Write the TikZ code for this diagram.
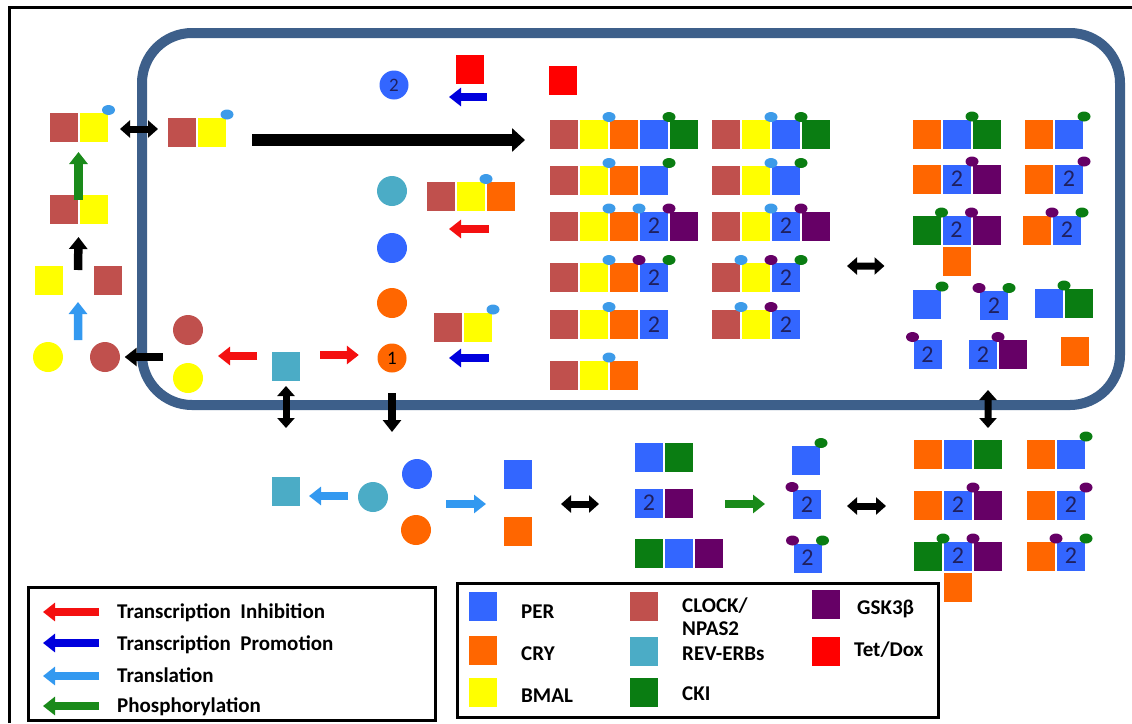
\documentclass[tikz,border=0pt]{standalone}
\usepackage{fontspec}
\setsansfont{Carlito}
\usepackage{tikz}
\usetikzlibrary{arrows.meta, positioning, shapes.geometric}
\tikzset{every node/.style={font=\sffamily}}
\usepackage{xcolor}
\definecolor{clkC}{HTML}{C0504D}
\definecolor{bmalC}{HTML}{FFFF00}
\definecolor{cryC}{HTML}{FF6600}
\definecolor{perC}{HTML}{3366FF}
\definecolor{ckiC}{HTML}{0A7D12}
\definecolor{gskC}{HTML}{660066}
\definecolor{revC}{HTML}{4BACC6}
\definecolor{tetC}{HTML}{FF0000}
\definecolor{pdotC}{HTML}{3D9BE9}
\definecolor{nucC}{HTML}{3D5F8A}
\definecolor{numC}{HTML}{1F2060}
\definecolor{redA}{HTML}{F41010}
\definecolor{blueA}{HTML}{0000DD}
\definecolor{lblueA}{HTML}{3399F0}
\definecolor{greenA}{HTML}{1A8A1A}

\begin{document}
\begin{tikzpicture}[x=1pt, y=-1pt,
    sq/.style={draw=white, line width=0.8pt, minimum width=29.2pt, minimum height=30.2pt, inner sep=0pt},
    clk/.style={sq, fill=clkC}, bmal/.style={sq, fill=bmalC}, cry/.style={sq, fill=cryC},
    per/.style={sq, fill=perC}, cki/.style={sq, fill=ckiC}, gsk/.style={sq, fill=gskC},
    rev/.style={sq, fill=revC}, tet/.style={sq, fill=tetC},
    per2/.style={per, text=numC, font=\sffamily\fontsize{24}{24}\selectfont},
    circ/.style={circle, minimum size=30pt, inner sep=0pt},
    dot/.style={ellipse, minimum width=13pt, minimum height=10pt, inner sep=0pt},
    pdot/.style={dot, fill=pdotC}, gdot/.style={dot, fill=ckiC}, vdot/.style={dot, fill=gskC},
    fat/.style={line width=8.5pt, -{Triangle[length=12pt, width=18pt]}},
    dbl/.style={line width=7pt, {Triangle[length=10pt, width=17pt]}-{Triangle[length=10pt, width=17pt]}},
    big/.style={line width=12pt, -{Triangle[length=13pt, width=23pt]}},
    legbox/.style={draw, line width=3pt, inner sep=0pt},
    legtxt/.style={anchor=base west, inner sep=0pt, font=\sffamily\bfseries\fontsize{21}{22}\selectfont}]
\useasboundingbox (0,0) rectangle (1132,723);
\draw[line width=3pt] (9,723) -- (9,7) -- (1132,7);
% nucleus
\node[draw=nucC, line width=10pt, rounded corners=50pt, minimum width=978pt, minimum height=372pt] (nuc) at (631,219) {};

% outside the nucleus
\node[clk] (l1a) at (63.5,127.5) {};
\node[bmal, right=0pt of l1a] (l1b) {};
\node[pdot] (l1p) at ([yshift=2pt]l1b.north east) {};
\node[clk] (l2a) at (63.5,209) {};
\node[bmal, right=0pt of l2a] (l2b) {};
\node[bmal] (l3a) at (48.5,280) {};
\node[clk] (l3b) at (107.5,280) {};
\node[circ, fill=bmalC] (l4a) at (48,357) {};
\node[circ, fill=clkC] (l4b) at (105,357) {};
\node[circ, fill=clkC] (m1a) at (188,330) {};
\node[circ, fill=bmalC] (m1b) at (188,378) {};
\node[rev] (rv) at (286,366) {};

% inside the nucleus
\node[clk] (k1a) at (182,132) {};
\node[bmal, right=0pt of k1a] (k1b) {};
\node[pdot] (k1p) at ([yshift=2pt]k1b.north east) {};
\node[circ, fill=cryC, minimum size=29pt, font=\sffamily\fontsize{19}{19}\selectfont] (c1) at (392,358) {1};
\node[circ, fill=cryC] (c2) at (392,303) {};
\node[circ, fill=perC] (c3) at (392,248) {};
\node[circ, fill=revC] (c4) at (392,191) {};
\node[circ, fill=perC, minimum size=29pt, text=numC, font=\sffamily\fontsize{19}{19}\selectfont] (c5) at (394,85) {2};
\node[tet] (t1) at (470,69.5) {};
\node[tet] (t2) at (563,80) {};
\node[clk] (k2a) at (441,196.5) {};
\node[bmal, right=0pt of k2a] (k2b) {};
\node[cry, right=0pt of k2b] (k2c) {};
\node[pdot] (k2p) at ([yshift=2pt]k2b.north east) {};
\node[clk] (k3a) at (448,327) {};
\node[bmal, right=0pt of k3a] (k3b) {};
\node[pdot] (k3p) at ([yshift=2pt]k3b.north east) {};

% complexes, first block
\node[clk] (a11) at (564,134.5) {}; \node[bmal, right=0pt of a11] (a12) {}; \node[cry, right=0pt of a12] (a13) {};
\node[per, right=0pt of a13] (a14) {}; \node[cki, right=0pt of a14] (a15) {};
\node[pdot] (a1p) at ([yshift=2pt]a12.north east) {}; \node[gdot] (a1g) at ([yshift=2pt]a14.north east) {};
\node[clk] (b11) at (726,134.5) {}; \node[bmal, right=0pt of b11] (b12) {}; \node[per, right=0pt of b12] (b13) {};
\node[cki, right=0pt of b13] (b14) {};
\node[pdot] (b1p) at ([yshift=2pt]b12.north east) {}; \node[gdot] (b1g) at ([yshift=2pt]b13.north east) {};

\node[clk] (a21) at (564,180.5) {}; \node[bmal, right=0pt of a21] (a22) {}; \node[cry, right=0pt of a22] (a23) {};
\node[per, right=0pt of a23] (a24) {};
\node[pdot] (a2p) at ([yshift=2pt]a22.north east) {}; \node[gdot] (a2g) at ([yshift=2pt]a24.north east) {};
\node[clk] (b21) at (726,180.5) {}; \node[bmal, right=0pt of b21] (b22) {}; \node[per, right=0pt of b22] (b23) {};
\node[pdot] (b2p) at ([yshift=2pt]b22.north east) {}; \node[gdot] (b2g) at ([yshift=2pt]b23.north east) {};

\node[clk] (a31) at (564,226) {}; \node[bmal, right=0pt of a31] (a32) {}; \node[cry, right=0pt of a32] (a33) {};
\node[per2, right=0pt of a33] (a34) {2}; \node[gsk, right=0pt of a34] (a35) {};
\node[pdot] (a3p) at ([yshift=2pt]a32.north east) {}; \node[pdot] (a3q) at ([yshift=2pt]a33.north east) {};
\node[vdot] (a3v) at ([yshift=2pt]a34.north east) {};
\node[clk] (b31) at (726,226) {}; \node[bmal, right=0pt of b31] (b32) {}; \node[per2, right=0pt of b32] (b33) {2};
\node[gsk, right=0pt of b33] (b34) {};
\node[pdot] (b3p) at ([yshift=2pt]b32.north east) {}; \node[vdot] (b3v) at ([yshift=2pt]b33.north east) {};

\node[clk] (a41) at (564,277.5) {}; \node[bmal, right=0pt of a41] (a42) {}; \node[cry, right=0pt of a42] (a43) {};
\node[per2, right=0pt of a43] (a44) {2};
\node[pdot] (a4p) at ([yshift=2pt]a42.north east) {}; \node[vdot] (a4v) at ([yshift=2pt]a43.north east) {};
\node[gdot] (a4g) at ([yshift=2pt]a44.north east) {};
\node[clk] (b41) at (726,277.5) {}; \node[bmal, right=0pt of b41] (b42) {}; \node[per2, right=0pt of b42] (b43) {2};
\node[pdot] (b4p) at ([yshift=2pt]b41.north east) {}; \node[vdot] (b4v) at ([yshift=2pt]b42.north east) {};
\node[gdot] (b4g) at ([yshift=2pt]b43.north east) {};

\node[clk] (a51) at (564,324.5) {}; \node[bmal, right=0pt of a51] (a52) {}; \node[cry, right=0pt of a52] (a53) {};
\node[per2, right=0pt of a53] (a54) {2};
\node[pdot] (a5p) at ([yshift=2pt]a52.north east) {};
\node[clk] (b51) at (726,324.5) {}; \node[bmal, right=0pt of b51] (b52) {}; \node[per2, right=0pt of b52] (b53) {2};
\node[pdot] (b5p) at ([yshift=2pt]b51.north east) {}; \node[vdot] (b5v) at ([yshift=2pt]b52.north east) {};

\node[clk] (a61) at (564,375) {}; \node[bmal, right=0pt of a61] (a62) {}; \node[cry, right=0pt of a62] (a63) {};
\node[pdot] (a6p) at ([yshift=2pt]a62.north east) {};

% complexes, second block
\node[cry] (c11) at (927,134) {}; \node[per, right=0pt of c11] (c12) {}; \node[cki, right=0pt of c12] (c13) {};
\node[gdot] (c1g) at ([yshift=2pt]c12.north east) {};
\node[cry] (d11) at (1039,134) {}; \node[per, right=0pt of d11] (d12) {};
\node[gdot] (d1g) at ([yshift=2pt]d12.north east) {};
\node[cry] (c21) at (927,179) {}; \node[per2, right=0pt of c21] (c22) {2}; \node[gsk, right=0pt of c22] (c23) {};
\node[vdot] (c2v) at ([yshift=2pt]c22.north east) {};
\node[cry] (d21) at (1039,179) {}; \node[per2, right=0pt of d21] (d22) {2};
\node[vdot] (d2v) at ([yshift=2pt]d22.north east) {};
\node[cki] (c31) at (926.5,230) {}; \node[per2, right=0pt of c31] (c32) {2}; \node[gsk, right=0pt of c32] (c33) {};
\node[cry, below=0pt of c32] (c34) {};
\node[gdot] (c3g) at ([yshift=2pt]c31.north east) {}; \node[vdot] (c3v) at ([yshift=2pt]c32.north east) {};
\node[cry] (d31) at (1037,230) {}; \node[per2, right=0pt of d31] (d32) {2};
\node[vdot] (d3v) at ([yshift=2pt]d31.north east) {}; \node[gdot] (d3g) at ([yshift=2pt]d32.north east) {};
\node[per] (c41) at (927,304) {}; \node[gdot] (c4g) at ([yshift=2pt]c41.north east) {};
\node[per2] (d41) at (994,305.5) {2};
\node[vdot] (d4v) at ([yshift=2pt]d41.north west) {}; \node[gdot] (d4g) at ([yshift=2pt]d41.north east) {};
\node[per] (e41) at (1049,303) {}; \node[cki, right=0pt of e41] (e42) {};
\node[gdot] (e4g) at ([yshift=2pt]e41.north east) {};
\node[per2] (c51) at (927.5,354.5) {2}; \node[vdot] (c5v) at ([yshift=2pt]c51.north west) {};
\node[per2] (d51) at (983,354.5) {2}; \node[gsk, right=0pt of d51] (d52) {};
\node[vdot] (d5v) at ([yshift=2pt]d51.north east) {};
\node[cry] (e51) at (1074.5,351.5) {};

% below the nucleus
\node[rev] (bt) at (286,491.5) {};
\node[circ, fill=revC] (btc) at (373,497) {};
\node[circ, fill=perC] (bpc) at (417,474) {};
\node[circ, fill=cryC] (boc) at (416,530) {};
\node[per] (bper) at (517.5,474.5) {};
\node[cry] (bcry) at (517.5,531) {};
\node[per] (m11) at (649,457.5) {}; \node[cki, right=0pt of m11] (m12) {};
\node[per2] (m21) at (649,503) {2}; \node[gsk, right=0pt of m21] (m22) {};
\node[cki] (m31) at (648.5,553) {}; \node[per, right=0pt of m31] (m32) {}; \node[gsk, right=0pt of m32] (m33) {};
\node[per] (pp1) at (806,460.5) {}; \node[gdot] (pp1g) at ([yshift=2pt]pp1.north east) {};
\node[per2] (pp2) at (807,504.5) {2}; \node[vdot] (pp2v) at ([yshift=2pt]pp2.north west) {};
\node[per2] (pp3) at (807.5,558) {2};
\node[vdot] (pp3v) at ([yshift=2pt]pp3.north west) {}; \node[gdot] (pp3g) at ([yshift=2pt]pp3.north east) {};

\node[cry] (f11) at (928,454) {}; \node[per, right=0pt of f11] (f12) {}; \node[cki, right=0pt of f12] (f13) {};
\node[cry] (g11) at (1041,454) {}; \node[per, right=0pt of g11] (g12) {};
\node[gdot] (g1g) at ([yshift=2pt]g12.north east) {};
\node[cry] (f21) at (928,505) {}; \node[per2, right=0pt of f21] (f22) {2}; \node[gsk, right=0pt of f22] (f23) {};
\node[vdot] (f2v) at ([yshift=2pt]f22.north east) {};
\node[cry] (g21) at (1041,505) {}; \node[per2, right=0pt of g21] (g22) {2};
\node[vdot] (g2v) at ([yshift=2pt]g22.north east) {};
\node[cki] (f31) at (928,556) {}; \node[per2, right=0pt of f31] (f32) {2}; \node[gsk, right=0pt of f32] (f33) {};
\node[cry, below=0pt of f32] (f34) {};
\node[gdot] (f3g) at ([yshift=2pt]f31.north east) {}; \node[vdot] (f3v) at ([yshift=2pt]f32.north east) {};
\node[cry] (g31) at (1041,556) {}; \node[per2, right=0pt of g31] (g32) {2};
\node[vdot] (g3v) at ([yshift=2pt]g31.north east) {}; \node[gdot] (g3g) at ([yshift=2pt]g32.north east) {};

% arrows
\draw[dbl] ([shift={(11.5pt,-1.5pt)}]l1b.east) -- ([shift={(-9pt,3pt)}]k1a.west);
\draw[big] ([shift={(25pt,-8pt)}]k1b.east) -- ([shift={(-24pt,-5.5pt)}]a11.west);
\draw[fat, greenA] ([yshift=-6.5pt]l2a.north east) -- ([yshift=-9pt]l1a.south east);
\draw[fat, black] ([shift={(14.5pt,-5.5pt)}]l3a.north east) -- ([yshift=-12.5pt]l2a.south east);
\draw[fat, lblueA] ([shift={(30pt,17pt)}]l4a.center) -- ([shift={(14.5pt,-6.5pt)}]l3a.south east);
\draw[fat, black] ([shift={(-9.5pt,-27pt)}]m1a.west) -- ([xshift=4.5pt]l4b.east);
\draw[fat, redA] ([shift={(-14pt,10pt)}]rv.west) -- ([shift={(30pt,-26pt)}]m1a.center);
\draw[fat, redA] ([shift={(19pt,11pt)}]rv.east) -- ([shift={(-18.5pt,3pt)}]c1.west);
\draw[fat, blueA] ([shift={(11pt,-31pt)}]k3b.center) -- ([xshift=57pt]c1.center);
\draw[fat, redA] ([shift={(-12pt,-32.5pt)}]k2c.center) -- ([shift={(-22pt,-32.5pt)}]k2b.center);
\draw[fat, blueA] ([shift={(17pt,-27.5pt)}]t1.center) -- ([shift={(-21pt,-27.5pt)}]t1.center);
\draw[dbl] ([shift={(46pt,11.5pt)}]b43.east) -- ([shift={(-57pt,-5pt)}]c34.west);
\draw[dbl] ([shift={(5pt,-20pt)}]d51.south) -- ([yshift=10.5pt]f13.north);
\draw[dbl] ([yshift=-4.5pt]rv.south) -- ([yshift=48pt]bt.north);
\draw[fat, black] ([yshift=-20.5pt]c1.south) -- ([shift={(19pt,65pt)}]btc.center);
\draw[fat, lblueA] ([shift={(-10pt,1pt)}]btc.west) -- ([shift={(8pt,-4.5pt)}]bt.east);
\draw[fat, lblueA] ([shift={(29pt,-30pt)}]bpc.center) -- ([shift={(-16.5pt,-29.5pt)}]bper.west);
\draw[dbl] ([shift={(28.5pt,-29.5pt)}]bper.east) -- ([shift={(-35pt,-1pt)}]m21.west);
\draw[fat, greenA] ([shift={(31pt,-1pt)}]m22.east) -- ([shift={(-27pt,0.5pt)}]pp2.west);
\draw[dbl] ([shift={(25pt,-1.5pt)}]pp2.east) -- ([shift={(-27pt,-1pt)}]f21.west);

% legend of the arrows
\node[legbox, minimum width=407pt, minimum height=133pt] (legA) at (231.5,653.5) {};
\node[legtxt] (tx1) at (117,618) {Transcription~ Inhibition};
\node[legtxt] (tx2) at (117,650) {Transcription~ Promotion};
\node[legtxt] (tx3) at (117,682) {Translation};
\node[legtxt] (tx4) at (117,712) {Phosphorylation};
\draw[fat, redA] ([shift={(-18pt,6pt)}]tx1.base west) -- ([shift={(-74pt,6pt)}]tx1.base west);
\draw[fat, blueA] ([shift={(-18pt,7pt)}]tx2.base west) -- ([shift={(-74pt,7pt)}]tx2.base west);
\draw[fat, lblueA] ([shift={(-18pt,6pt)}]tx3.base west) -- ([shift={(-74pt,6pt)}]tx3.base west);
\draw[fat, greenA] ([shift={(-18pt,6pt)}]tx4.base west) -- ([shift={(-74pt,6pt)}]tx4.base west);

% legend of the proteins
\node[legbox, minimum width=481pt, minimum height=134pt] (legB) at (697.5,650) {};
\node[per] (q1) at (482.5,606) {};
\node[cry] (q2) at (482.5,650.5) {};
\node[bmal] (q3) at (482.5,692.5) {};
\node[clk] (q4) at (643.5,606.5) {};
\node[rev] (q5) at (643.5,651) {};
\node[cki] (q6) at (643.5,692) {};
\node[gsk] (q7) at (826,604) {};
\node[tet] (q8) at (826,651.5) {};
\node[legtxt] (w1) at (521,618) {PER};
\node[legtxt] (w2) at (521,660) {CRY};
\node[legtxt] (w3) at (521,702) {BMAL};
\node[legtxt] (w4) at (682,612) {CLOCK/};
\node[legtxt] (w5) at (682,635) {NPAS2};
\node[legtxt] (w6) at (682,660) {REV-ERBs};
\node[legtxt] (w7) at (682,700) {CKI};
\node[legtxt] (w8) at (857,614) {GSK3β};
\node[legtxt] (w9) at (854,656) {Tet/Dox};
\end{tikzpicture}
\end{document}
